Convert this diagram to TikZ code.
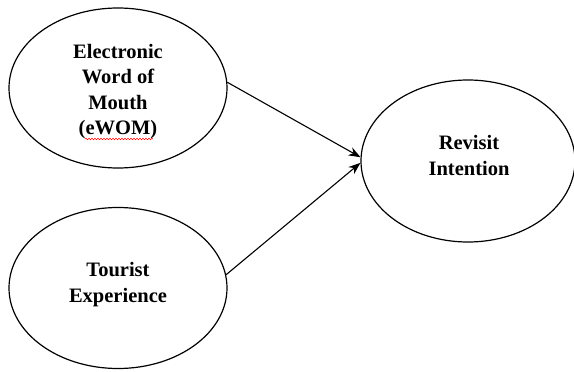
\documentclass[tikz,border=0pt]{standalone}
\usepackage{fontspec}
\setmainfont{Liberation Serif}
\usetikzlibrary{shapes.geometric,arrows.meta,decorations.pathmorphing}
\begin{document}
\begin{tikzpicture}[x=1pt,y=-1pt,
  construct/.style={draw, ellipse, line width=1.2pt, inner sep=0pt},
  label text/.style={anchor=north, inner sep=0pt, align=center,
    font=\fontsize{20.5}{25.3}\selectfont\bfseries},
  link/.style={line width=1.1pt, -{Stealth[length=12pt,width=9pt]}}]
\useasboundingbox (0,0) rectangle (574,372);
\fill[white] (0,0) rectangle (574,372);
\node[construct, minimum width=218pt, minimum height=160pt] (ewom) at (118,88) {};
\node[construct, minimum width=218pt, minimum height=161pt] (tour) at (118,288) {};
\node[construct, minimum width=214pt, minimum height=162pt] (rev) at (468,161) {};
\node[label text] (ewomt) at (118,44) {Electronic\\Word of\\Mouth\\(eWOM)};
\node[label text] (tourt) at (118,262.5) {Tourist\\Experience};
\node[label text] (revt) at (469,135.5) {Revisit\\Intention};
\coordinate (w1) at (85,139);
\coordinate (w2) at (153,139);
\draw[red, line width=0.5pt, decorate,
  decoration={snake, amplitude=0.8pt, segment length=3pt}] (w1) -- (w2);
\draw[link] (ewom.3) -- (rev.178);
\draw[link] (tour.7) -- (rev.181);
\end{tikzpicture}
\end{document}
